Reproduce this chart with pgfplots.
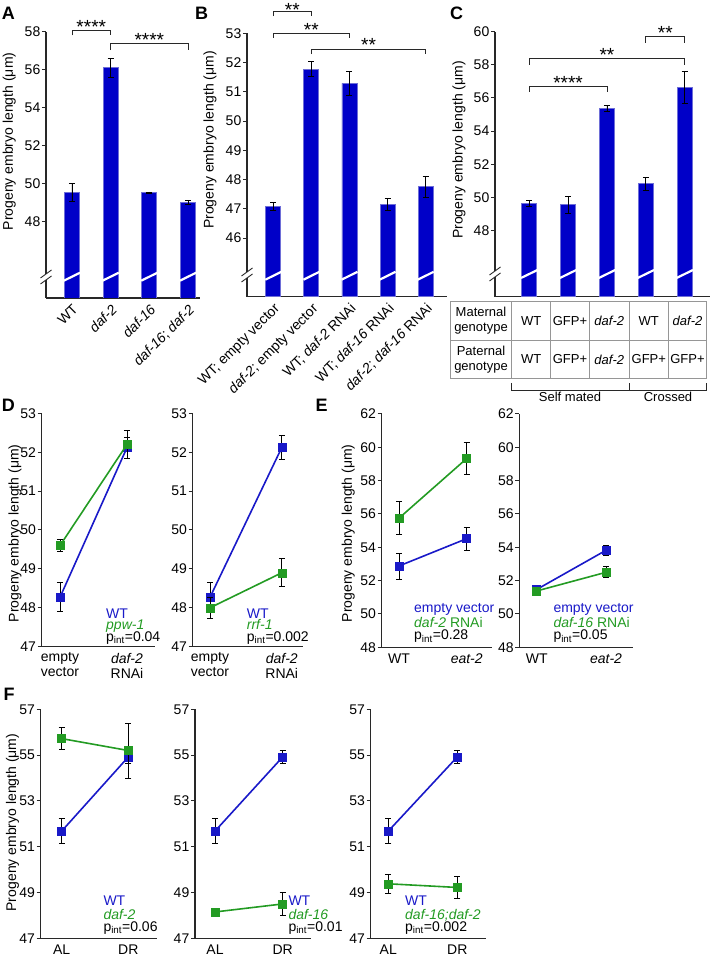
\documentclass[border=0pt]{standalone}
\usepackage{pgfplots}
\pgfplotsset{compat=1.18}
\usepackage{fontspec}
\setmainfont{Liberation Sans}
\definecolor{barblue}{RGB}{0,0,200}
\definecolor{baredge}{RGB}{110,110,215}
\definecolor{lblue}{RGB}{25,25,200}
\definecolor{lgreen}{RGB}{35,155,35}
\definecolor{axgray}{RGB}{40,40,40}
\definecolor{tabgray}{RGB}{150,150,150}
\newcommand\fA{\fontsize{14pt}{15pt}\selectfont}
\newcommand\fT{\fontsize{13pt}{15pt}\selectfont}
\newcommand\fL{\fontsize{18pt}{20pt}\selectfont\bfseries}
\newcommand\fS{\fontsize{19pt}{20pt}\selectfont}
\newcommand\pint[1]{p\textsubscript{int}=#1}
\newcommand\brk[7]{\draw[line width=0.8pt, axgray] (axis cs:#1,#4) -- (axis cs:#1,#5) -- (axis cs:#2,#5) -- (axis cs:#2,#4);
  \node[anchor=base, font=\fS, inner sep=0pt] at (axis cs:#3,#6) {#7};}
\pgfplotsset{
  base/.style={scale only axis, anchor=south west, axis lines=left,
    axis line style={-, line width=1.2pt, draw=axgray},
    tick align=outside, ytick pos=left, major tick length=4pt,
    tick style={line width=1pt, draw=axgray}, xtick style={draw=none},
    clip mode=individual, font=\fA, /pgf/number format/assume math mode=true,
    yticklabel style={inner sep=1.5pt, font=\fA}, xticklabel style={font=\fA}},
  bars/.style={ybar, bar width=15pt, fill=barblue, draw=baredge, line width=0.8pt,
    error bars/.cd, y dir=both, y explicit, error bar style={black, line width=0.8pt},
    error mark options={rotate=90, mark size=3pt, line width=0.8pt, black}},
  ln/.style={color=#1, line width=1.6pt, mark=square*, mark size=4pt,
    mark options={fill=#1, line width=0.5pt},
    error bars/.cd, y dir=both, y explicit, error bar style={black, line width=0.8pt},
    error mark options={rotate=90, mark size=3pt, line width=0.8pt, black}},
  rotlab/.style={x tick label style={rotate=45, anchor=north east, inner sep=1pt}},
  twolab/.style={x tick label style={align=center, font=\fontsize{14pt}{15pt}\selectfont, inner sep=2pt}},
}
\begin{document}
\begin{tikzpicture}[x=1pt,y=1pt]
\path[use as bounding box] (0,0) rectangle (712,957);

% ---------- A ----------
\begin{axis}[base, rotlab, at={(46pt,659pt)}, width=154pt, height=266pt,
  xmin=-0.67, xmax=3.31, ymin=44, ymax=58, ytick={48,50,52,54,56,58},
  xtick={0,1,2,3}, xticklabels={WT, \textit{daf-2}, \textit{daf-16}, {\textit{daf-16}; \textit{daf-2}}}]
\addplot[bars] coordinates {(0,49.55) +- (0,0.48) (1,56.12) +- (0,0.5) (2,49.55) +- (0,0.03) (3,49.05) +- (0,0.1)};
\draw[white, line width=2.2pt] (axis cs:-0.21,44.91) -- (axis cs:0.21,45.33);
\draw[white, line width=2.2pt] (axis cs:0.79,44.91) -- (axis cs:1.21,45.33);
\draw[white, line width=2.2pt] (axis cs:1.79,44.91) -- (axis cs:2.21,45.33);
\draw[white, line width=2.2pt] (axis cs:2.79,44.91) -- (axis cs:3.21,45.33);
\brk{0}{1}{0.5}{57.82}{58.105}{57.94}{****}
\brk{1}{3}{2}{57.05}{57.41}{57.24}{****}
\end{axis}
\draw[white, line width=3pt] (46,677) -- (46,683);
\draw[axgray, line width=0.9pt] (40.5,673) -- (51.5,681);
\draw[axgray, line width=0.9pt] (40.5,679) -- (51.5,687);

% ---------- B ----------
\begin{axis}[base, rotlab, at={(247pt,660.3pt)}, width=200pt, height=263.4pt,
  xmin=-0.69, xmax=4.56, ymin=44, ymax=53, ytick={46,47,48,49,50,51,52,53},
  xtick={0,1,2,3,4}, xticklabels={{WT; empty vector}, {\textit{daf-2}; empty vector}, {WT; \textit{daf-2} RNAi}, {WT; \textit{daf-16} RNAi}, {\textit{daf-2}; \textit{daf-16} RNAi}}]
\addplot[bars] coordinates {(0,47.08) +- (0,0.14) (1,51.77) +- (0,0.26) (2,51.29) +- (0,0.41) (3,47.15) +- (0,0.2) (4,47.76) +- (0,0.36)};
\draw[white, line width=2.2pt] (axis cs:-0.21,44.58) -- (axis cs:0.21,44.85);
\draw[white, line width=2.2pt] (axis cs:0.79,44.58) -- (axis cs:1.21,44.85);
\draw[white, line width=2.2pt] (axis cs:1.79,44.58) -- (axis cs:2.21,44.85);
\draw[white, line width=2.2pt] (axis cs:2.79,44.58) -- (axis cs:3.21,44.85);
\draw[white, line width=2.2pt] (axis cs:3.79,44.58) -- (axis cs:4.21,44.85);
\brk{0}{1}{0.5}{53.59}{53.74}{53.57}{**}
\brk{0}{2}{1}{52.84}{53.0}{52.89}{**}
\brk{1}{4}{2.5}{52.29}{52.45}{52.38}{**}
\end{axis}
\draw[white, line width=3pt] (247,679) -- (247,685);
\draw[axgray, line width=0.9pt] (241.5,675) -- (252.5,683);
\draw[axgray, line width=0.9pt] (241.5,681) -- (252.5,689);

% ---------- C ----------
\begin{axis}[base, at={(495pt,660.3pt)}, width=215pt, height=265pt,
  xmin=-0.88, xmax=4.65, ymin=44, ymax=60, ytick={48,50,52,54,56,58,60},
  xtick={0,1,2,3,4}, xticklabels={}]
\addplot[bars] coordinates {(0,49.63) +- (0,0.2) (1,49.55) +- (0,0.5) (2,55.36) +- (0,0.2) (3,50.82) +- (0,0.4) (4,56.63) +- (0,0.98)};
\draw[white, line width=2.2pt] (axis cs:-0.21,45.13) -- (axis cs:0.21,45.61);
\draw[white, line width=2.2pt] (axis cs:0.79,45.13) -- (axis cs:1.21,45.61);
\draw[white, line width=2.2pt] (axis cs:1.79,45.13) -- (axis cs:2.21,45.61);
\draw[white, line width=2.2pt] (axis cs:2.79,45.13) -- (axis cs:3.21,45.61);
\draw[white, line width=2.2pt] (axis cs:3.79,45.13) -- (axis cs:4.21,45.61);
\brk{3}{4}{3.5}{59.34}{59.70}{59.51}{**}
\brk{0}{4}{2}{57.99}{58.39}{58.20}{**}
\brk{0}{2}{1}{56.38}{56.72}{56.53}{****}
\end{axis}
\draw[white, line width=3pt] (495,680) -- (495,686);
\draw[axgray, line width=0.9pt] (489.5,676) -- (500.5,684);
\draw[axgray, line width=0.9pt] (489.5,682) -- (500.5,690);

% table C
\draw[tabgray, line width=0.8pt] (450.7,578.7) rectangle (706.7,656);
\draw[tabgray, line width=0.8pt] (450.7,616.3) -- (706.7,616.3);
\foreach \xx in {511.7,550.7,589.3,629.3,668.3} \draw[tabgray, line width=0.8pt] (\xx,578.7) -- (\xx,656);
\begin{scope}[every node/.style={font=\fT, inner sep=0pt}]
\node[align=center] at (481,636.2) {Maternal\\genotype};
\node at (531.2,636.2) {WT};
\node at (570,636.2) {GFP+};
\node at (609.3,636.2) {\textit{daf-2}};
\node at (648.8,636.2) {WT};
\node at (687.5,636.2) {\textit{daf-2}};
\node[align=center] at (481,597.5) {Paternal\\genotype};
\node at (531.2,597.5) {WT};
\node at (570,597.5) {GFP+};
\node at (609.3,597.5) {\textit{daf-2}};
\node at (648.8,597.5) {GFP+};
\node at (687.5,597.5) {GFP+};
\node at (570,560) {Self mated};
\node at (668,560) {Crossed};
\end{scope}
\draw[axgray, line width=0.8pt] (511.7,574) -- (511.7,567) -- (706.7,567) -- (706.7,574);
\draw[axgray, line width=0.8pt] (629.3,567) -- (629.3,574);

% ---------- D ----------
\begin{axis}[base, twolab, at={(41.7pt,310.3pt)}, width=113.3pt, height=233.4pt,
  xmin=-0.273, xmax=1.418, ymin=47, ymax=53, ytick={47,48,49,50,51,52,53},
  xtick={0,1}, xticklabels={{empty\\vector}, {\textit{daf-2}\\RNAi}}]
\addplot[ln=lblue] coordinates {(0,48.27) +- (0,0.37) (1,52.12) +- (0,0.27)};
\addplot[ln=lgreen] coordinates {(0,49.6) +- (0,0.15) (1,52.2) +- (0,0.35)};
\end{axis}
\begin{axis}[base, twolab, at={(192.7pt,310.3pt)}, width=110.6pt, height=233.4pt,
  xmin=-0.241, xmax=1.30, ymin=47, ymax=53, ytick={47,48,49,50,51,52,53},
  xtick={0,1}, xticklabels={{empty\\vector}, {\textit{daf-2}\\RNAi}}]
\addplot[ln=lblue] coordinates {(0,48.27) +- (0,0.37) (1,52.12) +- (0,0.3)};
\addplot[ln=lgreen] coordinates {(0,48.0) +- (0,0.28) (1,48.9) +- (0,0.36)};
\end{axis}

% ---------- E ----------
\begin{axis}[base, twolab, at={(381.7pt,309.7pt)}, width=110pt, height=233.3pt,
  xmin=-0.256, xmax=1.369, ymin=48, ymax=62, ytick={48,50,52,54,56,58,60,62},
  xtick={0,1}, xticklabels={WT, \textit{eat-2}}]
\addplot[ln=lblue] coordinates {(0,52.88) +- (0,0.78) (1,54.52) +- (0,0.7)};
\addplot[ln=lgreen] coordinates {(0,55.75) +- (0,1.0) (1,59.33) +- (0,0.97)};
\end{axis}
\begin{axis}[base, twolab, at={(519.3pt,309.7pt)}, width=114pt, height=233.3pt,
  xmin=-0.251, xmax=1.394, ymin=48, ymax=62, ytick={48,50,52,54,56,58,60,62},
  xtick={0,1}, xticklabels={WT, \textit{eat-2}}]
\addplot[ln=lblue] coordinates {(0,51.47) +- (0,0.1) (1,53.82) +- (0,0.3)};
\addplot[ln=lgreen] coordinates {(0,51.38) +- (0,0.1) (1,52.5) +- (0,0.33)};
\end{axis}

% ---------- F ----------
\begin{axis}[base, twolab, at={(40.7pt,18.7pt)}, width=116pt, height=229pt,
  xmin=-0.315, xmax=1.426, ymin=47, ymax=57, ytick={47,49,51,53,55,57},
  xtick={0,1}, xticklabels={AL, DR}]
\addplot[ln=lblue] coordinates {(0,51.68) +- (0,0.54) (1,54.92) +- (0,0.3)};
\addplot[ln=lgreen] coordinates {(0,55.72) +- (0,0.47) (1,55.2) +- (0,1.2)};
\end{axis}
\begin{axis}[base, twolab, at={(195pt,18.7pt)}, width=116pt, height=229pt,
  xmin=-0.295, xmax=1.418, ymin=47, ymax=57, ytick={47,49,51,53,55,57},
  xtick={0,1}, xticklabels={AL, DR}]
\addplot[ln=lblue] coordinates {(0,51.68) +- (0,0.54) (1,54.92) +- (0,0.3)};
\addplot[ln=lgreen] coordinates {(0,48.15) +- (0,0.05) (1,48.5) +- (0,0.52)};
\end{axis}
\begin{axis}[base, twolab, at={(370.7pt,18.7pt)}, width=115pt, height=229pt,
  xmin=-0.255, xmax=1.412, ymin=47, ymax=57, ytick={47,49,51,53,55,57},
  xtick={0,1}, xticklabels={AL, DR}]
\addplot[ln=lblue] coordinates {(0,51.68) +- (0,0.54) (1,54.92) +- (0,0.3)};
\addplot[ln=lgreen] coordinates {(0,49.38) +- (0,0.4) (1,49.22) +- (0,0.48)};
\end{axis}

% legends
\begin{scope}[every node/.style={font=\fA, inner sep=0pt, anchor=base west}]
\node[text=lblue] at (106,338.7) {WT};
\node[text=lgreen] at (106,327.7) {\textit{ppw-1}};
\node at (106,315.5) {\pint{0.04}};
\node[text=lblue] at (246.7,338.7) {WT};
\node[text=lgreen] at (246.7,327.7) {\textit{rrf-1}};
\node at (246.7,315.5) {\pint{0.002}};
\node[text=lblue] at (414,344.3) {empty vector};
\node[text=lgreen] at (414,329.3) {\textit{daf-2} RNAi};
\node at (414,317) {\pint{0.28}};
\node[text=lblue] at (553.3,344.3) {empty vector};
\node[text=lgreen] at (553.3,329.3) {\textit{daf-16} RNAi};
\node at (553.3,317) {\pint{0.05}};
\node[text=lblue] at (103.3,51) {WT};
\node[text=lgreen] at (103.3,37.7) {\textit{daf-2}};
\node at (103.3,25.5) {\pint{0.06}};
\node[text=lblue] at (288.3,51) {WT};
\node[text=lgreen] at (288.3,37.7) {\textit{daf-16}};
\node at (288.3,25.5) {\pint{0.01}};
\node[text=lblue] at (405,51) {WT};
\node[text=lgreen] at (405,37.7) {\textit{daf-16;daf-2}};
\node at (405,25.5) {\pint{0.002}};
\end{scope}

% y labels
\begin{scope}[every node/.style={font=\fA, inner sep=0pt, rotate=90}]
\node at (9.2,815.5) {Progeny embryo length (μm)};
\node at (210,817) {Progeny embryo length (μm)};
\node at (459,807) {Progeny embryo length (μm)};
\node at (15,423.7) {Progeny embryo length (μm)};
\node at (348.3,423.7) {Progeny embryo length (μm)};
\node at (12.5,134.5) {Progeny embryo length (μm)};
\end{scope}

% panel letters
\begin{scope}[every node/.style={font=\fL, inner sep=0pt}]
\node at (8.3,943.7) {A};
\node at (201.7,943.7) {B};
\node at (456.7,943.7) {C};
\node at (8.3,551.2) {D};
\node at (321.7,551.2) {E};
\node at (9.2,262.8) {F};
\end{scope}
\end{tikzpicture}
\end{document}
